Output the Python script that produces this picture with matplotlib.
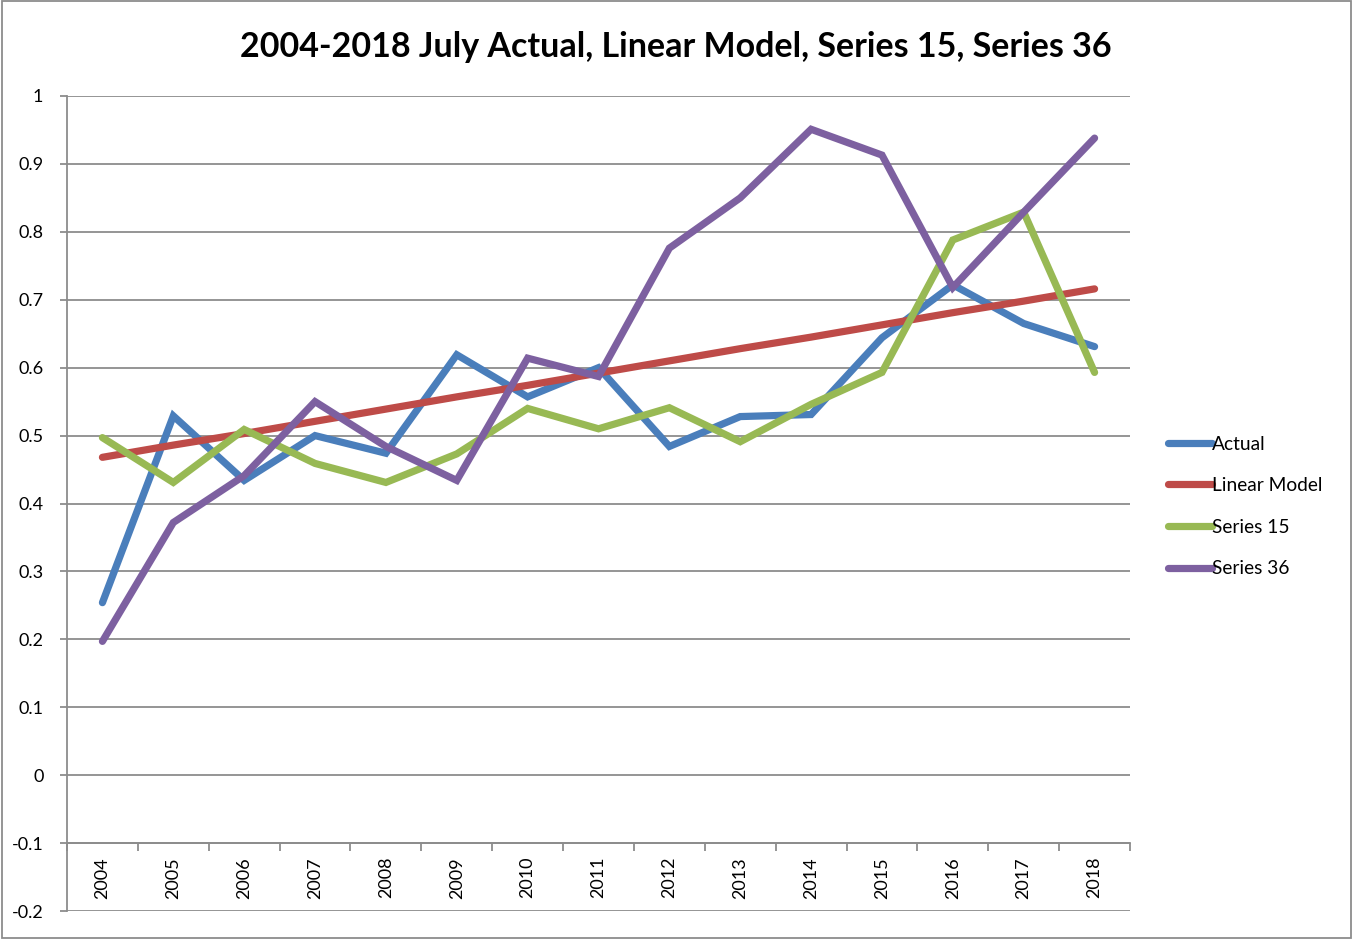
import matplotlib
matplotlib.use('Agg')
import matplotlib.pyplot as plt
from matplotlib.patches import Rectangle

plt.rcParams['font.family'] = ['Lato', 'DejaVu Sans']

# Data
years = ['2004', '2005', '2006', '2007', '2008', '2009', '2010', '2011',
         '2012', '2013', '2014', '2015', '2016', '2017', '2018']
actual = [0.254, 0.529, 0.434, 0.500, 0.474, 0.619, 0.557, 0.600,
          0.484, 0.528, 0.531, 0.644, 0.722, 0.665, 0.631]
linear_model = [0.468, 0.486, 0.503, 0.521, 0.539, 0.557, 0.574, 0.592,
                0.610, 0.628, 0.645, 0.663, 0.681, 0.698, 0.716]
series_15 = [0.497, 0.431, 0.509, 0.459, 0.431, 0.473, 0.540, 0.510,
             0.541, 0.491, 0.546, 0.593, 0.788, 0.829, 0.593]
series_36 = [0.197, 0.372, 0.441, 0.550, 0.484, 0.434, 0.614, 0.587,
             0.776, 0.850, 0.951, 0.913, 0.718, 0.829, 0.938]

series = [('Actual', actual, '#4a7ebb'),
          ('Linear Model', linear_model, '#be4b48'),
          ('Series 15', series_15, '#98b954'),
          ('Series 36', series_36, '#7d60a0')]

W, H = 1353, 940
fig = plt.figure(figsize=(W / 100, H / 100), dpi=100)
ax = fig.add_axes([67 / W, 1 - 911 / H, (1130 - 67) / W, (911 - 96) / H])

x = list(range(len(years)))
for name, vals, col in series:
    ax.plot(x, vals, color=col, lw=5.2, solid_capstyle='round',
            solid_joinstyle='miter', label=name)

ax.set_xlim(-0.5, len(years) - 0.5)
ax.set_ylim(-0.2, 1.0)
yt = [i / 10 for i in range(-2, 11)]
ax.set_yticks(yt)
ax.set_yticklabels([f'{v:g}' for v in yt])
ax.yaxis.grid(True, color='#8c8c8c', lw=1.3)
ax.set_axisbelow(True)

ax.set_xticks(x)
ax.set_xticklabels(years)
ax.set_xticks([i - 0.5 for i in range(len(years) + 1)], minor=True)
ax.tick_params(axis='x', which='major', length=0, pad=10, labelrotation=90,
               labelsize=13)
ax.tick_params(axis='x', which='minor', length=6, color='#8c8c8c', width=1.3)
ax.tick_params(axis='y', length=5, color='#8c8c8c', width=1.3, pad=12,
               labelsize=13)

for s in ['top', 'right']:
    ax.spines[s].set_visible(False)
ax.spines['bottom'].set_position(('data', -0.1))
ax.spines['bottom'].set_color('#8c8c8c')
ax.spines['left'].set_color('#8c8c8c')
ax.spines['bottom'].set_linewidth(1.3)
ax.spines['left'].set_linewidth(1.3)

fig.text(676 / W, 1 - 47 / H,
         '2004-2018 July Actual, Linear Model, Series 15, Series 36',
         ha='center', va='center', fontsize=24.5, fontweight='bold')

leg = fig.legend(loc='upper left', bbox_to_anchor=(1160 / W, 1 - 428 / H),
                 frameon=False, fontsize=13.8, handlelength=2.3,
                 handletextpad=0.0, labelspacing=1.28, borderaxespad=0)

fig.patches.append(Rectangle((2 / W, 2 / H), 1 - 4 / W, 1 - 3 / H,
                             transform=fig.transFigure, fill=False,
                             edgecolor='#8c8c8c', lw=1.3))

fig.savefig('out.png', dpi=100)
